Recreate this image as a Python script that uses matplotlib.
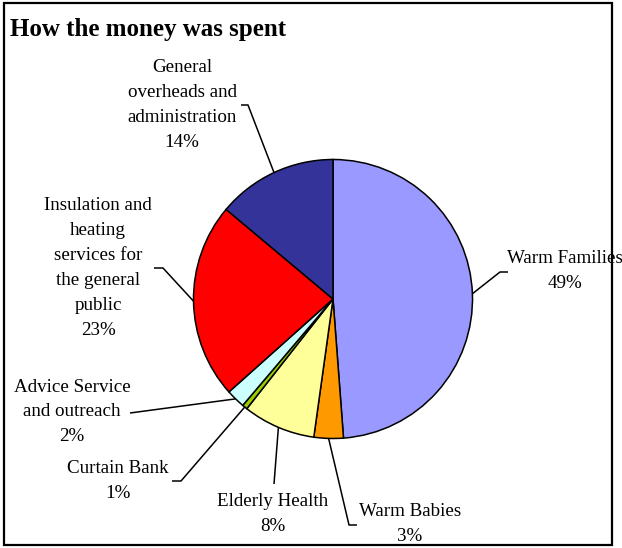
import numpy as np
import matplotlib
matplotlib.use('Agg')
import matplotlib.pyplot as plt
from matplotlib.patches import Rectangle

plt.rcParams['font.family'] = ['Liberation Serif', 'DejaVu Serif']

# Spending breakdown (percent of total), clockwise from 12 o'clock
categories = ['Warm Families', 'Warm Babies', 'Elderly Health', 'Curtain Bank',
              'Advice Service\nand outreach', 'Insulation and\nheating\nservices for\nthe general\npublic',
              'General\noverheads and\nadministration']
values = [48.8, 3.4, 8.4, 0.6, 2.2, 22.7, 13.9]
colors = ['#9999FF', '#FF9900', '#FFFF99', '#99CC00', '#CCFFFF', '#FF0000', '#333399']

# label centres and leader-line bends, in pixel coordinates (y down)
label_pos = [(565, 271), (410, 524), (273, 514), (118, 481), (72, 412), (98, 268), (182, 105)]
leader_pts = [
    [(500, 272), (508, 272)],
    [(349, 525), (357, 525)],
    [(274, 484)],
    [(181, 481), (172, 481)],
    [(130, 413)],
    [(163, 268), (154, 268)],
    [(248, 105), (241, 105)],
]

W, H = 622, 548
center = (333, 299)
radius = 139.5

fig = plt.figure(figsize=(W / 100, H / 100), dpi=100)
ax = fig.add_axes([0, 0, 1, 1])

# y axis is flipped below, so counterclock=True draws clockwise on screen
wedges, _ = ax.pie(values, colors=colors, center=center, radius=radius,
                   startangle=-90, counterclock=True,
                   wedgeprops=dict(edgecolor='black', linewidth=1.1))

ax.set_xlim(0, W)
ax.set_ylim(H, 0)
ax.set_aspect('equal')
ax.axis('off')

for w, name, v, pos, pts in zip(wedges, categories, values, label_pos, leader_pts):
    mid = np.deg2rad((w.theta1 + w.theta2) / 2)
    sx = center[0] + radius * np.cos(mid)
    sy = center[1] + radius * np.sin(mid)
    xs = [sx] + [p[0] for p in pts]
    ys = [sy] + [p[1] for p in pts]
    ax.plot(xs, ys, color='black', linewidth=1.1, solid_capstyle='butt')
    ax.text(pos[0], pos[1], f'{name}\n{v:.0f}%', ha='center', va='center',
            fontsize=13.7, linespacing=1.61, multialignment='center')

ax.text(10, 36, 'How the money was spent', fontsize=18, fontweight='bold',
        ha='left', va='baseline')

ax.add_patch(Rectangle((4, 3), 608, 542, fill=False, edgecolor='black',
                       linewidth=1.6, clip_on=False))

fig.savefig('out.png', dpi=100)
